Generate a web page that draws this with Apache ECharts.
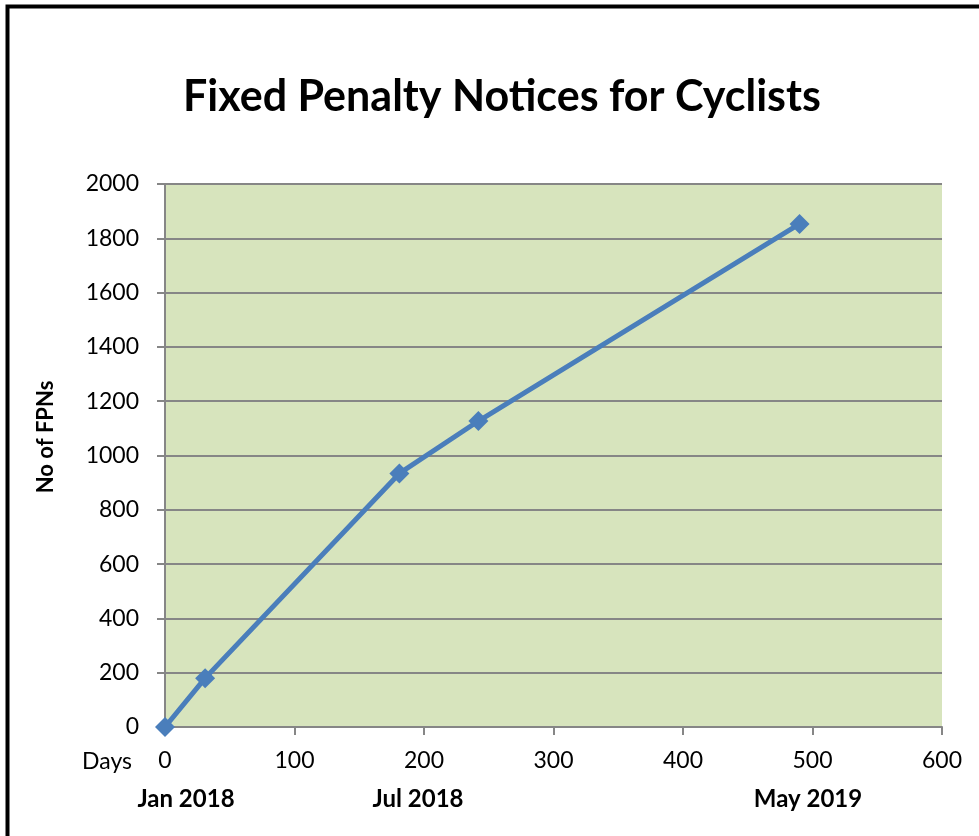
<!DOCTYPE html>
<html><head><meta charset="utf-8">
<script src="https://cdn.jsdelivr.net/npm/echarts@6/dist/echarts.min.js"></script>
<style>html,body{margin:0;padding:0;background:#fff}#c{width:979px;height:836px}</style>
</head><body><div id="c"></div>
<script>
const titleText = 'Fixed Penalty Notices for Cyclists';
const yAxisName = 'No of FPNs';
const days = [0, 31, 181, 242, 490];
const fpns = [0, 180, 934, 1127, 1853];
const dateLabels = ['Jan 2018', 'Jul 2018', 'May 2019'];
const dateLabelX = [186, 418, 808];

const chart = echarts.init(document.getElementById('c'), null, {renderer: 'canvas'});
const FONT = 'Lato';
chart.setOption({
  animation: false,
  backgroundColor: '#ffffff',
  title: {
    text: titleText, left: 183, top: 76, padding: 0,
    textStyle: {fontFamily: FONT, fontWeight: 'bold', fontSize: 43, color: '#000'}
  },
  grid: {left: 165, top: 184, right: 37, bottom: 109, show: true, backgroundColor: '#d7e4bd', borderWidth: 0},
  xAxis: {
    type: 'value', min: 0, max: 600, interval: 100,
    axisLine: {show: true, lineStyle: {color: '#868686', width: 2}},
    axisTick: {show: true, length: 8, lineStyle: {color: '#868686', width: 2}},
    splitLine: {show: false},
    axisLabel: {fontFamily: FONT, fontSize: 23, color: '#000', margin: 22}
  },
  yAxis: {
    type: 'value', min: 0, max: 2000, interval: 200,
    axisLine: {show: true, lineStyle: {color: '#868686', width: 2}},
    axisTick: {show: true, length: 8, lineStyle: {color: '#868686', width: 2}},
    splitLine: {show: true, lineStyle: {color: '#868686', width: 2}},
    axisLabel: {fontFamily: FONT, fontSize: 23, color: '#000', margin: 26, formatter: v => String(v)}
  },
  series: [{
    type: 'line',
    data: days.map((d, i) => [d, fpns[i]]),
    symbol: 'diamond', symbolSize: 20,
    lineStyle: {color: '#4a7ebb', width: 5},
    itemStyle: {color: '#4a7ebb'},
    z: 5
  }],
  graphic: [
    {type: 'rect', left: 5, top: 4, shape: {width: 1100, height: 1100},
     style: {fill: 'none', stroke: '#000', lineWidth: 4}, silent: true},
    {type: 'text', x: 132, y: 762, style: {text: 'Days', align: 'right', verticalAlign: 'middle',
      font: '23px ' + FONT, fill: '#000'}},
    {type: 'text', x: 46, y: 437, rotation: Math.PI / 2, style: {text: yAxisName, align: 'center', verticalAlign: 'middle',
      font: 'bold 22px ' + FONT, fill: '#000'}}
  ].concat(dateLabels.map((t, i) => ({
    type: 'text', x: dateLabelX[i], y: 799,
    style: {text: t, align: 'center', verticalAlign: 'middle', font: 'bold 24px ' + FONT, fill: '#000'}
  })))
});
</script></body></html>
